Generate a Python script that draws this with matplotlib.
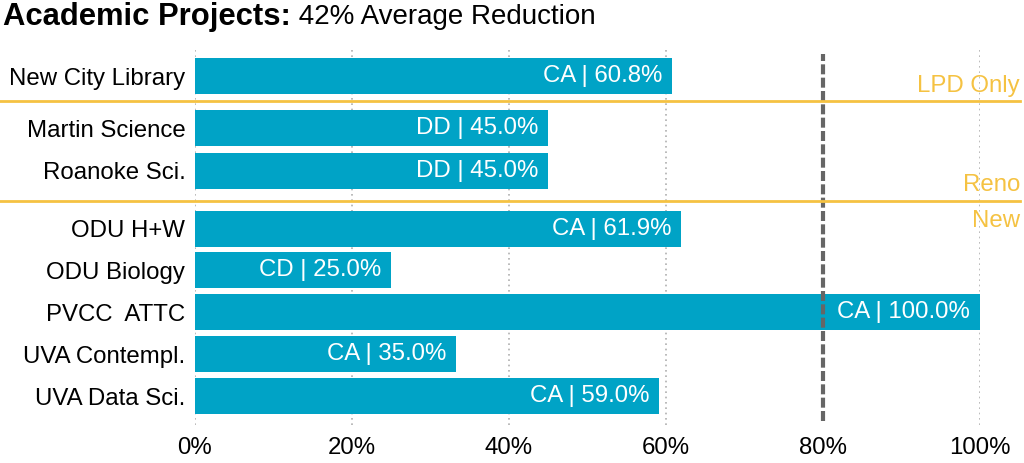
"""
Academic projects: reduction by project, grouped by project type.
"""
import matplotlib
matplotlib.use("Agg")
import matplotlib.pyplot as plt

# -------------------------------------------------------------------
# Data
# -------------------------------------------------------------------
projects = ["New City Library", "Martin Science", "Roanoke Sci.", "ODU H+W",
            "ODU Biology", "PVCC  ATTC", "UVA Contempl.", "UVA Data Sci."]
phase = ["CA", "DD", "DD", "CA", "CD", "CA", "CA", "CA"]
reduction = [60.8, 45.0, 45.0, 61.9, 25.0, 100.0, 33.2, 59.1]      # bar length
reported = [60.8, 45.0, 45.0, 61.9, 25.0, 100.0, 35.0, 59.0]       # label text
x_ticks = [0, 20, 40, 60, 80, 100]
target = 80
average = 42

# groups: label above the divider / label below it
group_labels = ["LPD Only", "Reno", "New"]

# -------------------------------------------------------------------
# Layout
# -------------------------------------------------------------------
row_y = [7.62, 6.38, 5.36, 3.98, 3.0, 2.0, 1.0, 0.0]
divider_y = [7.02, 4.64]

BAR = "#00A3C6"
GOLD = "#F5C242"
FONT = "Liberation Sans"
FS = 17.3

plt.rcParams["font.family"] = [FONT, "DejaVu Sans"]

fig = plt.figure(figsize=(10.24, 4.63), dpi=100)
ax = fig.add_axes([195 / 1024, 38 / 463, 785 / 1024, 375 / 463])

ax.barh(row_y, reduction, height=0.85, color=BAR, zorder=2)

for y, v, ph, r in zip(row_y, reduction, phase, reported):
    ax.annotate(f"{ph} | {r:.1f}%", xy=(v, y), xytext=(-7, 0),
                textcoords="offset points", ha="right", va="center",
                color="white", fontsize=FS, zorder=4)

# target line
ax.axvline(target, ymin=0.01, ymax=0.99, color="#666666", lw=3,
           dashes=(2.4, 0.8), zorder=3)

# dotted grid (skip the target)
for t in x_ticks:
    if t != target:
        ax.axvline(t, color="#AFAFAF", lw=1.2, ls=(0, (1, 2.2)), zorder=1)

# group dividers, running past the axes
for y in divider_y:
    ax.axhline(y, xmin=-0.248, xmax=1.051, color=GOLD, lw=2,
               clip_on=False, zorder=3)

trans = ax.get_yaxis_transform()
ax.text(1.051, divider_y[0] + 0.1, group_labels[0], transform=trans,
        ha="right", va="bottom", color=GOLD, fontsize=FS)
ax.text(1.051, divider_y[1] + 0.12, group_labels[1], transform=trans,
        ha="right", va="bottom", color=GOLD, fontsize=FS)
ax.text(1.051, divider_y[1] - 0.2, group_labels[2], transform=trans,
        ha="right", va="top", color=GOLD, fontsize=FS)

ax.set_xlim(0, 100)
ax.set_ylim(-0.69, 8.24)
ax.set_xticks(x_ticks)
ax.set_xticklabels([f"{t}%" for t in x_ticks], fontsize=FS)
ax.set_yticks(row_y)
ax.set_yticklabels(projects, fontsize=FS)
ax.tick_params(length=0, pad=7)
ax.tick_params(axis="x", pad=9)
for s in ax.spines.values():
    s.set_visible(False)

# -------------------------------------------------------------------
# Title: bold lead + regular remainder
# -------------------------------------------------------------------
t1 = fig.text(3 / 1024, 1 - 17 / 463, "Academic Projects:", fontsize=22.3,
              fontweight="bold", va="center", ha="left")
fig.canvas.draw()
bb = t1.get_window_extent(fig.canvas.get_renderer())
fig.text(bb.x1 / fig.bbox.width, 1 - 17 / 463, f" {average}% Average Reduction",
         fontsize=20, va="center", ha="left")

fig.savefig("out.png", dpi=100)
